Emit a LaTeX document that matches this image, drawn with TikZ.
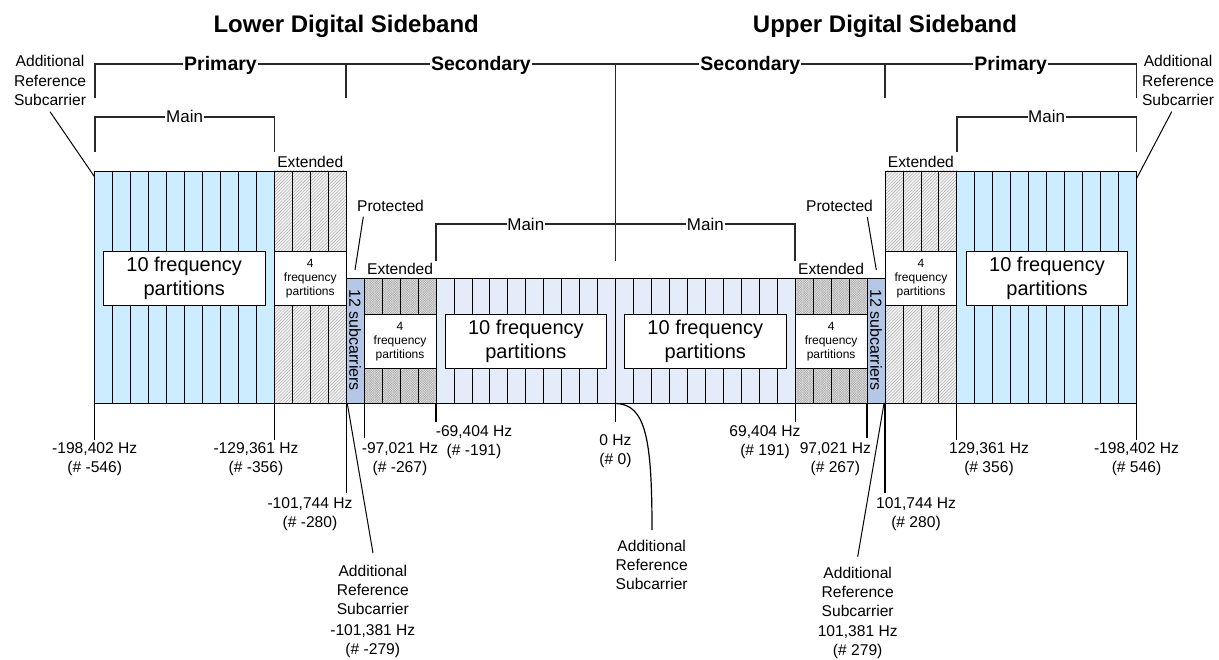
\documentclass[tikz,border=0pt]{standalone}
\usepackage{fontspec}
\setmainfont{Liberation Sans}
\usetikzlibrary{patterns.meta}
\definecolor{primfill}{RGB}{204,236,255}
\definecolor{secfill}{RGB}{228,236,249}
\definecolor{protfill}{RGB}{180,199,231}
\definecolor{brkcol}{RGB}{40,40,40}
\tikzset{
  lbl/.style={font=\fontsize{15.6}{19.1}\selectfont, align=center, inner sep=0pt, anchor=north},
  plaintext/.style={inner sep=0pt, text height=11.2pt, text depth=0pt, font=\fontsize{15.6}{19}\selectfont},
  hdr/.style={inner ysep=0pt, inner xsep=1pt, text height=14pt, text depth=0pt, font=\fontsize{19.5}{22}\selectfont\bfseries},
  mainlbl/.style={inner ysep=0pt, inner xsep=0.5pt, text height=12.2pt, text depth=0pt, font=\fontsize{17}{20}\selectfont},
  titletext/.style={inner sep=0pt, text height=17.2pt, text depth=0pt, font=\fontsize{24}{28}\selectfont\bfseries},
  subtext/.style={inner sep=0pt, text height=11.5pt, text depth=0pt, rotate=-90, font=\fontsize{16}{19}\selectfont},
  bigbox/.style={draw=black, line width=0.9pt, fill=white, align=center, inner sep=0pt, font=\fontsize{20}{24}\selectfont},
  smallbox/.style={draw=black, line width=0.9pt, fill=white, align=center, inner sep=0pt, font=\fontsize{12}{14.3}\selectfont},
  brk/.style={draw=brkcol, line width=1.7pt},
  tickline/.style={draw=black, line width=1.3pt},
  leader/.style={draw=black, line width=1pt},
  partline/.style={draw=black, line width=0.8pt},
  exthatch/.style={pattern={Lines[angle=45,distance=2.2pt,line width=0.4pt]}, pattern color=gray!70},
  secdots/.style={pattern={Hatch[angle=45,distance=1.7pt,line width=0.35pt]}, pattern color=gray!70},
}
\begin{document}
\begin{tikzpicture}[x=1pt,y=-1pt]
\useasboundingbox (0,0) rectangle (1219,660);
\def\cx{615.6}\def\w{17.96}
\def\primTop{171}\def\secTop{278.3}\def\bandBot{403.5}
\pgfmathsetmacro{\xA}{\cx-29*\w}
\pgfmathsetmacro{\xB}{\cx-19*\w}
\pgfmathsetmacro{\xC}{\cx-15*\w}
\pgfmathsetmacro{\xD}{\cx-14*\w}
\pgfmathsetmacro{\xE}{\cx-10*\w}
\pgfmathsetmacro{\xM}{\cx}
\pgfmathsetmacro{\xF}{\cx+10*\w}
\pgfmathsetmacro{\xG}{\cx+14*\w}
\pgfmathsetmacro{\xH}{\cx+15*\w}
\pgfmathsetmacro{\xI}{\cx+19*\w}
\pgfmathsetmacro{\xJ}{\cx+29*\w}

% band fills
\fill[primfill] (\xA,\primTop) rectangle (\xB,\bandBot);
\fill[primfill] (\xI,\primTop) rectangle (\xJ,\bandBot);
\fill[gray!10] (\xB,\primTop) rectangle (\xC,\bandBot);
\fill[gray!10] (\xH,\primTop) rectangle (\xI,\bandBot);
\fill[exthatch] (\xB,\primTop) rectangle (\xC,\bandBot);
\fill[exthatch] (\xH,\primTop) rectangle (\xI,\bandBot);
\fill[protfill] (\xC,\secTop) rectangle (\xD,\bandBot);
\fill[protfill] (\xG,\secTop) rectangle (\xH,\bandBot);
\fill[gray!18] (\xD,\secTop) rectangle (\xE,\bandBot);
\fill[gray!18] (\xF,\secTop) rectangle (\xG,\bandBot);
\fill[secdots] (\xD,\secTop) rectangle (\xE,\bandBot);
\fill[secdots] (\xF,\secTop) rectangle (\xG,\bandBot);
\fill[secfill] (\xE,\secTop) rectangle (\xF,\bandBot);

% subcarrier partition lines
\foreach \k in {-29,...,-15,15,16,...,29}
  \draw[partline] ({\cx+\k*\w},\primTop) -- ({\cx+\k*\w},\bandBot);
\foreach \k in {-14,...,14}
  \draw[partline] ({\cx+\k*\w},\secTop) -- ({\cx+\k*\w},\bandBot);
\draw[partline] (\xA,\primTop) -- (\xC,\primTop);
\draw[partline] (\xH,\primTop) -- (\xJ,\primTop);
\draw[partline] (\xC,\secTop) -- (\xH,\secTop);
\draw[partline] (\xA,\bandBot) -- (\xJ,\bandBot);

% partition boxes
\node[bigbox, minimum width=161.7pt, minimum height=54pt] (lpm) at (184.2,278.7) {10 frequency\\partitions};
\node[smallbox, minimum width=71.8pt, minimum height=54pt] (lpe) at ({(\xB+\xC)/2},278.7) {4\\frequency\\partitions};
\node[smallbox, minimum width=71.8pt, minimum height=53.5pt] (lse) at ({(\xD+\xE)/2},341.5) {4\\frequency\\partitions};
\node[bigbox, minimum width=161.7pt, minimum height=54pt] (lsm) at (525.9,341.3) {10 frequency\\partitions};
\node[bigbox, minimum width=161.7pt, minimum height=54pt] (usm) at (705.3,341.3) {10 frequency\\partitions};
\node[smallbox, minimum width=71.8pt, minimum height=53.5pt] (use) at ({(\xF+\xG)/2},341.5) {4\\frequency\\partitions};
\node[smallbox, minimum width=71.8pt, minimum height=54pt] (upe) at ({(\xH+\xI)/2},278.7) {4\\frequency\\partitions};
\node[bigbox, minimum width=161.7pt, minimum height=54pt] (upm) at (1047,278.7) {10 frequency\\partitions};
\node[subtext] (lprot) at ({(\xC+\xD)/2},340.3) {12 subcarriers};
\node[subtext] (uprot) at ({(\xG+\xH)/2},340.3) {12 subcarriers};

% titles
\node[titletext] (lowtitle) at (\xC,24) {Lower Digital Sideband};
\node[titletext] (uptitle) at (\xH,24) {Upper Digital Sideband};

% top brackets
\node[hdr] (lprim) at ({(\xA+\xC)/2},64) {Primary};
\node[hdr] (lsec) at ({(\xC+\xM)/2},64) {Secondary};
\node[hdr] (usec) at ({(\xM+\xH)/2},64) {Secondary};
\node[hdr] (uprim) at ({(\xH+\xJ)/2},64) {Primary};
\coordinate (tA) at (\xA,98);
\coordinate (tC) at (\xC,98);
\coordinate (tM) at (\xM,260.7);
\coordinate (tH) at (\xH,98);
\coordinate (tJ) at (\xJ,98);
\draw[brk] (tA) |- (lprim.west);
\draw[brk] (lprim.east) -- (lsec.west);
\draw[brk] (tC) -- (tC |- lprim.east);
\draw[brk] (lsec.east) -- (usec.west);
\draw[brk] (tM) -- (tM |- lsec.east);
\draw[brk] (usec.east) -- (uprim.west);
\draw[brk] (tH) -- (tH |- usec.east);
\draw[brk] (uprim.east) -| (tJ);

% main brackets
\node[mainlbl] (lmain) at ({(\xA+\xB)/2},116.7) {Main};
\node[mainlbl] (umain) at ({(\xI+\xJ)/2},116.7) {Main};
\node[mainlbl] (lsmain) at ({(\xE+\xM)/2},224.3) {Main};
\node[mainlbl] (usmain) at ({(\xM+\xF)/2},224.3) {Main};
\coordinate (mA) at (\xA,151.7);
\coordinate (mB) at (\xB,151.7);
\coordinate (mI) at (\xI,151.7);
\coordinate (mJ) at (\xJ,151.7);
\coordinate (sE) at (\xE,260.7);
\coordinate (sF) at (\xF,260.7);
\draw[brk] (mA) |- (lmain.west);
\draw[brk] (lmain.east) -| (mB);
\draw[brk] (mI) |- (umain.west);
\draw[brk] (umain.east) -| (mJ);
\draw[brk] (sE) |- (lsmain.west);
\draw[brk] (lsmain.east) -- (tM |- lsmain.east);
\draw[brk] (usmain.west) -- (tM |- usmain.west);
\draw[brk] (usmain.east) -| (sF);

% extended / protected labels
\node[plaintext] (lpext) at ({(\xB+\xC)/2},162) {Extended};
\node[plaintext] (upext) at ({(\xH+\xI)/2},162) {Extended};
\node[plaintext] (lsext) at ({(\xD+\xE)/2},269) {Extended};
\node[plaintext] (usext) at ({(\xF+\xG)/2},269) {Extended};
\node[plaintext] (lprotl) at (390.5,206) {Protected};
\node[plaintext] (uprotl) at (839.5,206) {Protected};
\coordinate (lpa) at (363.3,216.7);
\coordinate (lpb) at (355,270);
\coordinate (upa) at (867.3,217);
\coordinate (upb) at (876.3,270);
\draw[leader] (lpa) -- (lpb);
\draw[leader] (upa) -- (upb);

% outer reference subcarriers
\node[lbl] (arsTL) at (50,55.4) {Additional\\Reference\\Subcarrier};
\node[lbl] (arsTR) at (1178,55.4) {Additional\\Reference\\Subcarrier};
\coordinate (tla) at (50,111.7);
\coordinate (tlb) at (94.5,176.7);
\coordinate (tra) at (1171.7,111.7);
\coordinate (trb) at (1136.7,178.3);
\draw[leader] (tla) -- (tlb);
\draw[leader] (tra) -- (trb);

% frequency ticks
\foreach \n/\x/\e in {A/\xA/440, B/\xB/440, C/\xC/493, D/\xD/438, E/\xE/421.7, M/\xM/422,
                      F/\xF/421.7, G/\xG/438, H/\xH/493, I/\xI/440, J/\xJ/440}{
  \coordinate (b\n) at (\x,\bandBot);
  \coordinate (e\n) at (\x,\e);
  \draw[tickline] (b\n) -- (e\n);
}
\node[lbl] (fA) at (94.7,442.4) {-198,402 Hz\\(\# -546)};
\node[lbl] (fB) at (256,442.4) {-129,361 Hz\\(\# -356)};
\node[lbl] (fC) at (310,497.7) {-101,744 Hz\\(\# -280)};
\node[lbl] (fD) at (400,442.7) {-97,021 Hz\\(\# -267)};
\node[lbl] (fE) at (474,425.4) {-69,404 Hz\\(\# -191)};
\node[lbl] (fM) at (615.5,434.4) {0 Hz\\(\# 0)};
\node[lbl] (fF) at (765,425.4) {69,404 Hz\\(\# 191)};
\node[lbl] (fG) at (835.3,442.7) {97,021 Hz\\(\# 267)};
\node[lbl] (fH) at (916,497.7) {101,744 Hz\\(\# 280)};
\node[lbl] (fI) at (989,442.7) {129,361 Hz\\(\# 356)};
\node[lbl] (fJ) at (1136.5,442.7) {-198,402 Hz\\(\# 546)};

% inner reference subcarriers
\node[lbl] (arsL) at (372.8,565) {Additional\\Reference\\Subcarrier\\[1.5pt]-101,381 Hz\\(\# -279)};
\node[lbl] (arsM) at (651.7,540.1) {Additional\\Reference\\Subcarrier};
\node[lbl] (arsR) at (857.7,566.5) {Additional\\Reference\\Subcarrier\\[1.5pt]101,381 Hz\\(\# 279)};
\coordinate (arsLa) at (347.3,\bandBot);
\coordinate (arsLb) at (373,553);
\coordinate (arsMa) at (\xM,\bandBot);
\coordinate (arsMb) at (652,530);
\coordinate (arsRa) at (884,\bandBot);
\coordinate (arsRb) at (857.7,556.7);
\draw[leader] (arsLa) -- (arsLb);
\draw[leader] (arsRa) -- (arsRb);
\draw[leader, line width=1.2pt] (arsMa) .. controls (646,404) and (652,440) .. (arsMb);
\end{tikzpicture}
\end{document}
